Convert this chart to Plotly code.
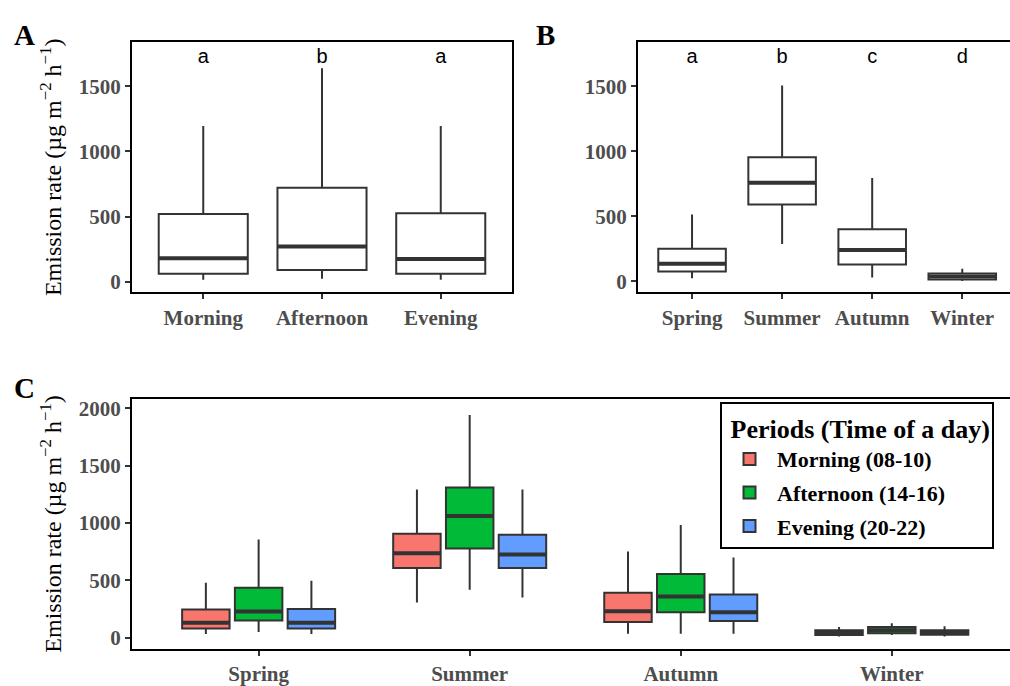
import plotly.graph_objects as go

# ---------------- data ----------------
# Panel A: time of day
periods_a = ["Morning", "Afternoon", "Evening"]
a_q1 = [60, 90, 60]
a_med = [180, 270, 173]
a_q3 = [519, 722, 526]
a_lo = [15, 22, 15]
a_hi = [1195, 1640, 1195]
a_letters = ["a", "b", "a"]

# Panel B: seasons
seasons = ["Spring", "Summer", "Autumn", "Winter"]
b_q1 = [76, 591, 129, 15]
b_med = [136, 758, 242, 38]
b_q3 = [250, 955, 401, 61]
b_lo = [23, 288, 30, 2]
b_hi = [515, 1508, 795, 98]
b_letters = ["a", "b", "c", "d"]

# Panel C: season x period
period_names = ["Morning (08-10)", "Afternoon (14-16)", "Evening (20-22)"]
period_colors = ["#F8766D", "#00BA38", "#619CFF"]
morning_q1 = [80, 607, 137, 23]
morning_med = [131, 735, 231, 44]
morning_q3 = [245, 906, 393, 66]
morning_lo = [32, 308, 34, 11]
morning_hi = [479, 1291, 752, 94]
afternoon_q1 = [151, 778, 222, 40]
afternoon_med = [228, 1060, 359, 65]
afternoon_q3 = [436, 1308, 556, 94]
afternoon_lo = [51, 419, 34, 23]
afternoon_hi = [855, 1940, 983, 126]
evening_q1 = [80, 607, 145, 26]
evening_med = [131, 726, 222, 45]
evening_q3 = [250, 897, 376, 66]
evening_lo = [32, 350, 34, 11]
evening_hi = [496, 1291, 700, 100]

c_q1 = [morning_q1, afternoon_q1, evening_q1]
c_med = [morning_med, afternoon_med, evening_med]
c_q3 = [morning_q3, afternoon_q3, evening_q3]
c_lo = [morning_lo, afternoon_lo, evening_lo]
c_hi = [morning_hi, afternoon_hi, evening_hi]

letter_y = 1720
y_title = "Emission rate (µg m<sup>−2</sup> h<sup>−1</sup>)"

# ---------------- styling ----------------
W, H = 1010, 686
LINE = "#333333"
SERIF = "Liberation Serif, Times New Roman, serif"
SANS = "Liberation Sans, Arial, sans-serif"
TICKFONT = dict(family=SERIF, size=21, color="#4D4D4D", weight="bold")


def px_x(x):
    return x / W


def px_y(y):
    return 1 - y / H


fig = go.Figure()


def add_box(xaxis, yaxis, cats, q1, med, q3, lo, hi, fill, name, width=None,
            offsetgroup=None, showlegend=False, legendgroup=None):
    common = dict(x=cats, xaxis=xaxis, yaxis=yaxis, boxpoints=False,
                  whiskerwidth=0, hoverinfo="skip")
    if width is not None:
        common["width"] = width
    if offsetgroup is not None:
        common["offsetgroup"] = offsetgroup
    if legendgroup is not None:
        common["legendgroup"] = legendgroup
    fig.add_trace(go.Box(q1=q1, median=med, q3=q3, lowerfence=lo, upperfence=hi,
                         fillcolor=fill, line=dict(color=LINE, width=2),
                         name=name, showlegend=showlegend, **common))
    # thicker median bar, as in ggplot
    fig.add_trace(go.Box(q1=med, median=med, q3=med, lowerfence=med, upperfence=med,
                         fillcolor="rgba(0,0,0,0)", line=dict(color=LINE, width=4),
                         name=name + " median", showlegend=False, **common))


# Panel A
add_box("x", "y", periods_a, a_q1, a_med, a_q3, a_lo, a_hi, "white", "A", width=0.75)
fig.add_trace(go.Scatter(x=periods_a, y=[letter_y] * len(periods_a), mode="text",
                         text=a_letters, textfont=dict(family=SANS, size=20, color="black"),
                         xaxis="x", yaxis="y", showlegend=False, hoverinfo="skip"))

# Panel B
add_box("x2", "y2", seasons, b_q1, b_med, b_q3, b_lo, b_hi, "white", "B", width=0.75)
fig.add_trace(go.Scatter(x=seasons, y=[letter_y] * len(seasons), mode="text",
                         text=b_letters, textfont=dict(family=SANS, size=20, color="black"),
                         xaxis="x2", yaxis="y2", showlegend=False, hoverinfo="skip"))

# Panel C
for i, name in enumerate(period_names):
    add_box("x3", "y3", seasons, c_q1[i], c_med[i], c_q3[i], c_lo[i], c_hi[i],
            period_colors[i], name, offsetgroup="g%d" % i, showlegend=True,
            legendgroup="g%d" % i)

axis_common = dict(showgrid=False, zeroline=False, showline=True, linecolor="black",
                   linewidth=2, ticks="outside", ticklen=5, tickwidth=1.5,
                   tickcolor=LINE, tickfont=TICKFONT, fixedrange=True)

fig.update_layout(
    width=W, height=H,
    margin=dict(l=0, r=0, t=0, b=0),
    paper_bgcolor="white", plot_bgcolor="white",
    boxmode="group", boxgap=0.25, boxgroupgap=0.1,
    showlegend=True,
    legend=dict(
        x=px_x(720), y=px_y(407), xanchor="left", yanchor="top",
        bgcolor="white", bordercolor="black", borderwidth=2,
        font=dict(family=SERIF, size=22, color="black", weight="bold"),
        title=dict(text=" Periods (Time of a day)",
                   font=dict(family=SERIF, size=26, color="black", weight="bold")),
        traceorder="grouped", tracegroupgap=2, itemwidth=45,
    ),
    xaxis=dict(domain=[px_x(132), px_x(512)], anchor="y", type="category",
               range=[-0.6, 2.6], mirror=True, **axis_common),
    yaxis=dict(domain=[px_y(295), px_y(40)], anchor="x", range=[-83, 1839],
               tickvals=[0, 500, 1000, 1500], mirror=True,
               title=dict(text=y_title, font=dict(family=SERIF, size=24, color="black"),
                          standoff=10),
               **axis_common),
    xaxis2=dict(domain=[px_x(638), 1.0], anchor="y2", type="category",
                range=[-0.6, 3.53], mirror=True, **axis_common),
    yaxis2=dict(domain=[px_y(295), px_y(40)], anchor="x2", range=[-85, 1840],
                tickvals=[0, 500, 1000, 1500], mirror=False, **axis_common),
    xaxis3=dict(domain=[px_x(132), 1.0], anchor="y3", type="category",
                range=[-0.6, 3.56], mirror=True, **axis_common),
    yaxis3=dict(domain=[px_y(658), px_y(404)], anchor="x3", range=[-94, 2077],
                tickvals=[0, 500, 1000, 1500, 2000], mirror=False,
                title=dict(text=y_title, font=dict(family=SERIF, size=24, color="black"),
                           standoff=10),
                **axis_common),
)

for lab, x, y in [("A", 12, 14), ("B", 534, 14), ("C", 12, 374)]:
    fig.add_annotation(text="<b>%s</b>" % lab, x=px_x(x), y=px_y(y), xref="paper",
                       yref="paper", xanchor="left", yanchor="top", showarrow=False,
                       font=dict(family=SERIF, size=29, color="black"))

fig.write_html("out.html", config={"displayModeBar": False},
               post_script="document.body.style.margin='0';document.body.style.overflow='hidden';")
